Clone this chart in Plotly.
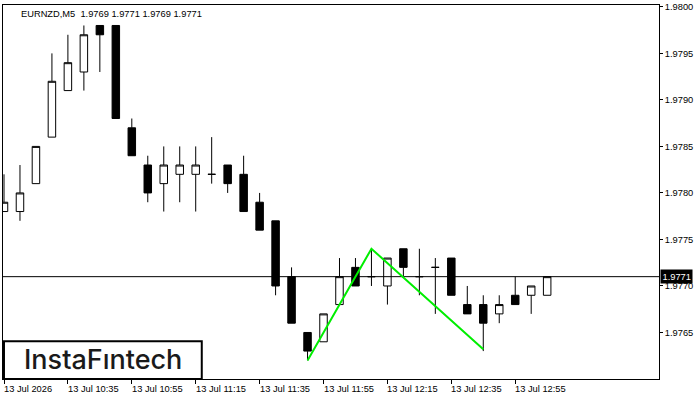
import plotly.graph_objects as go

# ---- data ----
opens  = [1.9778, 1.9778, 1.9781, 1.9786, 1.9791, 1.9793, 1.9798, 1.9798, 1.9787, 1.9783,
          1.9781, 1.9782, 1.9782, 1.9782, 1.9783, 1.9782, 1.9779, 1.9777, 1.9771, 1.9765,
          1.9764, 1.9768, 1.9772, 1.9771, 1.9770, 1.9774, 1.9771, 1.9772, 1.9773, 1.9768,
          1.9768, 1.9767, 1.9769, 1.9769, 1.9769]
highs  = [1.9782, 1.9783, 1.9785, 1.9795, 1.9797, 1.9798, 1.9798, 1.9798, 1.9788, 1.9784,
          1.9785, 1.9785, 1.9785, 1.9786, 1.9783, 1.9784, 1.9780, 1.9777, 1.9772, 1.9765,
          1.9767, 1.9773, 1.9773, 1.9774, 1.9773, 1.9774, 1.9774, 1.9773, 1.9773, 1.9770,
          1.9769, 1.9769, 1.9771, 1.9770, 1.9771]
lows   = [1.9778, 1.9777, 1.9781, 1.9786, 1.9791, 1.9791, 1.9793, 1.9788, 1.9784, 1.9779,
          1.9778, 1.9779, 1.9778, 1.9781, 1.9780, 1.9778, 1.9776, 1.9769, 1.9766, 1.9762,
          1.9764, 1.9768, 1.9770, 1.9770, 1.9768, 1.9771, 1.9769, 1.9767, 1.9769, 1.9767,
          1.9763, 1.9766, 1.9768, 1.9767, 1.9769]
closes = [1.9779, 1.9780, 1.9785, 1.9792, 1.9794, 1.9797, 1.9797, 1.9788, 1.9784, 1.9780,
          1.9783, 1.9783, 1.9783, 1.9782, 1.9781, 1.9778, 1.9776, 1.9770, 1.9766, 1.9763,
          1.9767, 1.9771, 1.9770, 1.9771, 1.9773, 1.9772, 1.9771, 1.9772, 1.9769, 1.9767,
          1.9766, 1.9768, 1.9768, 1.9770, 1.9771]
bar_index = list(range(len(opens)))

x_tick_index  = [0, 4, 8, 12, 16, 20, 24, 28, 32]
x_tick_labels = ["13 Jul 2026", "13 Jul 10:35", "13 Jul 10:55", "13 Jul 11:15", "13 Jul 11:35",
                 "13 Jul 11:55", "13 Jul 12:15", "13 Jul 12:35", "13 Jul 12:55"]
y_tick_vals   = [1.9765, 1.9770, 1.9775, 1.9780, 1.9785, 1.9790, 1.9795, 1.9800]
y_tick_labels = ["1.9765", "1.9770", "1.9775", "1.9780", "1.9785", "1.9790", "1.9795", "1.9800"]

pattern_x = [19, 23, 30]
pattern_y = [1.9762, 1.9774, 1.97632]

current_price = 1.9771
title_text = "EURNZD,M5\u00a0\u00a01.9769 1.9771 1.9769 1.9771"

x_range = [-0.0625, 41]
y_range = [1.97600, 1.98002]

FONT = "Liberation Sans, Arial, sans-serif"
FS = 9.3

fig = go.Figure()
fig.add_trace(go.Candlestick(
    x=bar_index, open=opens, high=highs, low=lows, close=closes,
    increasing=dict(fillcolor="white", line=dict(color="black", width=1)),
    decreasing=dict(fillcolor="black", line=dict(color="black", width=1)),
    whiskerwidth=0, showlegend=False, hoverinfo="skip"))

fig.add_trace(go.Scatter(x=x_range, y=[current_price, current_price], mode="lines",
                         line=dict(color="black", width=1), showlegend=False, hoverinfo="skip"))

fig.add_trace(go.Scatter(x=pattern_x, y=pattern_y, mode="lines",
                         line=dict(color="#00ee00", width=2), showlegend=False, hoverinfo="skip"))

fig.update_layout(
    width=700, height=400,
    margin=dict(l=2, r=41, t=2, b=21),
    paper_bgcolor="white", plot_bgcolor="white",
    boxgap=0.33,
    font=dict(family=FONT, size=FS, color="black"),
    xaxis=dict(range=x_range, showgrid=False, zeroline=False, rangeslider=dict(visible=False),
               showline=True, linecolor="black", linewidth=1, mirror=True,
               tickvals=x_tick_index, ticktext=[""] * len(x_tick_index), showticklabels=False,
               ticks="outside", ticklen=4, tickcolor="black", tickwidth=1),
    yaxis=dict(range=y_range, side="right", showgrid=False, zeroline=False,
               showline=True, linecolor="black", linewidth=1, mirror=True,
               tickvals=y_tick_vals, ticktext=y_tick_labels, ticklabeloverflow="allow",
               ticks="outside", ticklen=3, tickcolor="black", tickwidth=1,
               tickfont=dict(family=FONT, size=FS, color="black")),
)

for xv, lab in zip(x_tick_index, x_tick_labels):
    fig.add_annotation(x=xv, y=-0.027, xref="x", yref="paper", text=lab, showarrow=False,
                       xanchor="left", yanchor="middle", xshift=-2,
                       font=dict(family=FONT, size=FS, color="black"))

fig.add_annotation(x=0.0244, y=0.976, xref="paper", yref="paper", text=title_text,
                   showarrow=False, xanchor="left", yanchor="middle",
                   font=dict(family=FONT, size=FS, color="black"))

fig.add_annotation(x=1, y=current_price, xref="paper", yref="y", text=str(current_price),
                   showarrow=False, xanchor="left", yanchor="middle", xshift=1,
                   bgcolor="black", borderpad=1.5,
                   font=dict(family=FONT, size=FS, color="white"))

# logo box
fig.add_shape(type="rect", xref="paper", yref="paper", x0=0.0015, x1=0.303, y0=0.0, y1=0.1008,
              line=dict(color="black", width=2), fillcolor="white", layer="above")
fig.add_annotation(x=0.152, y=0.053, xref="paper", yref="paper", text="InstaFıntech",
                   showarrow=False, xanchor="center", yanchor="middle",
                   font=dict(family="Inter, Roboto, sans-serif", size=27, color="#1a1a1a",
                             weight=500))

fig.write_html("out.html")
